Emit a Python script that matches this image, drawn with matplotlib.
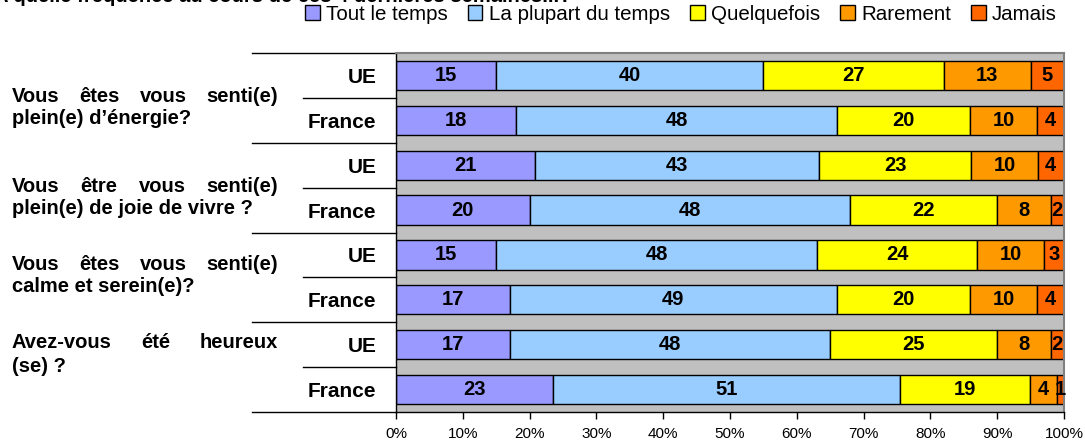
import matplotlib
matplotlib.use('Agg')
import matplotlib.pyplot as plt
import matplotlib.transforms as mtransforms
from matplotlib.ticker import FuncFormatter
import numpy as np

plt.rcParams['font.family'] = ['Liberation Sans', 'DejaVu Sans']

# ---------------- data ----------------
series = ['Tout le temps', 'La plupart du temps', 'Quelquefois', 'Rarement', 'Jamais']
colors = ['#9999FF', '#99CCFF', '#FFFF00', '#FF9900', '#FF6600']
rows = ['UE', 'France', 'UE', 'France', 'UE', 'France', 'UE', 'France']
tout_le_temps = [15, 18, 21, 20, 15, 17, 17, 23]
la_plupart = [40, 48, 43, 48, 48, 49, 48, 51]
quelquefois = [27, 20, 23, 22, 24, 20, 25, 19]
rarement = [13, 10, 10, 8, 10, 10, 8, 4]
jamais = [5, 4, 4, 2, 3, 4, 2, 1]
questions = [
    ('Vous êtes vous senti(e)', 'plein(e) d\u2019énergie?'),
    ('Vous être vous senti(e)', 'plein(e) de joie de vivre ?'),
    ('Vous êtes vous senti(e)', 'calme et serein(e)?'),
    ('Avez-vous été heureux', '(se) ?'),
]
title = 'A quelle fréquence au cours de ces 4 dernières semaines...?'
xticks = [0, 10, 20, 30, 40, 50, 60, 70, 80, 90, 100]

values = np.array([tout_le_temps, la_plupart, quelquefois, rarement, jamais], dtype=float)
totals = values.sum(axis=0)
pct = values / totals * 100

# ---------------- figure ----------------
W, H = 1085, 441
fig = plt.figure(figsize=(W / 100, H / 100), dpi=100)
ax = fig.add_axes([396 / W, 1 - 412 / H, 668 / W, 359 / H])
ax.set_facecolor('#C0C0C0')

y = np.arange(len(rows))
left = np.zeros(len(rows))
handles = []
for i, name in enumerate(series):
    cont = ax.barh(y, pct[i], left=left, height=0.65, color=colors[i],
                   edgecolor='black', linewidth=1, label=name)
    ax.bar_label(cont, labels=[str(int(v)) for v in values[i]], label_type='center',
                 fontsize=14.5, fontweight='bold', color='black')
    handles.append(cont)
    left += pct[i]

ax.set_xlim(0, 100)
ax.set_ylim(len(rows) - 0.5, -0.5)
ax.set_xticks(xticks)
ax.xaxis.set_major_formatter(FuncFormatter(lambda v, p: f'{int(v)}%'))
ax.tick_params(axis='x', direction='out', length=5, labelsize=11, pad=6, width=1)
ax.set_yticks(y)
ax.set_yticklabels(rows, fontsize=15, fontweight='bold')
ax.tick_params(axis='y', length=0, pad=14)

for s in ['top', 'right']:
    ax.spines[s].set_color('#808080')
    ax.spines[s].set_linewidth(1.5)
for s in ['left', 'bottom']:
    ax.spines[s].set_color('black')
    ax.spines[s].set_linewidth(1)

# category separators on the left
trans = mtransforms.blended_transform_factory(ax.transAxes, ax.transData)
long_x = (252 - 396) / 668
short_x = (303 - 396) / 668
for b in [-0.5, 1.5, 3.5, 5.5, 7.5]:
    ax.plot([long_x, 0], [b, b], transform=trans, clip_on=False, color='black', lw=1)
for b in [0.5, 2.5, 4.5, 6.5]:
    ax.plot([short_x, 0], [b, b], transform=trans, clip_on=False, color='black', lw=1)

# group labels (first line justified)
renderer = fig.canvas.get_renderer()
line_y = [(97, 119), (186, 209), (265, 287), (343, 366)]
x0_px, x1_px = 12, 278
txt_kw = dict(fontsize=14.5, fontweight='bold', va='center', ha='left')
for (l1, l2), (y1, y2) in zip(questions, line_y):
    words = l1.split()
    ts = [fig.text(0, 1 - y1 / H, w, **txt_kw) for w in words]
    widths = [t.get_window_extent(renderer).width for t in ts]
    gap = ((x1_px - x0_px) - sum(widths)) / (len(words) - 1)
    pos = x0_px
    for t, w in zip(ts, widths):
        t.set_x(pos / W)
        pos += w + gap
    fig.text(x0_px / W, 1 - y2 / H, l2, **txt_kw)

# title (cut at the top edge, as in the reference)
fig.text(-6 / W, 1 - 2 / H, title, fontsize=14.5, fontweight='bold', ha='left', va='baseline')

# legend
fig.legend(handles=handles, labels=series, loc='center', bbox_to_anchor=(681 / W, 1 - 14 / H),
           ncol=5, frameon=False, fontsize=14.8, handlelength=0.7, handleheight=0.7,
           handletextpad=0.3, columnspacing=1.0, borderaxespad=0)

fig.savefig('out.png', dpi=100)
